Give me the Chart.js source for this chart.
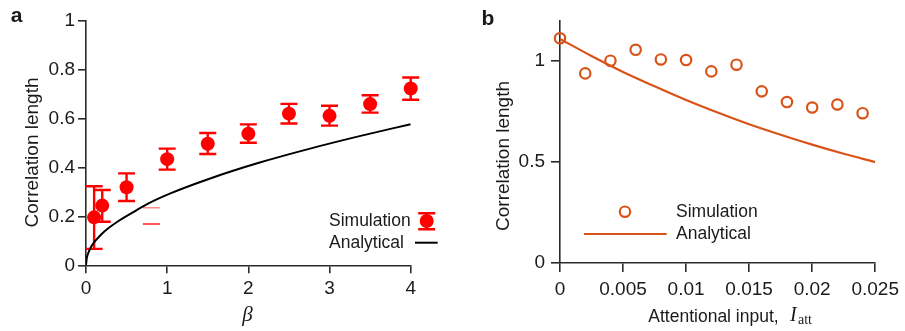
<!DOCTYPE html>
<html><head><meta charset="utf-8">
<script src="https://cdn.jsdelivr.net/npm/chart.js@4/dist/chart.umd.min.js"></script>
<style>
html,body{margin:0;padding:0;background:#fff;}
#wrap{position:relative;width:905px;height:331px;overflow:hidden;background:#fff;}
.pan{position:absolute;top:0;height:331px;}
#pa{left:0;width:452px;}
#pb{left:452px;width:453px;}
</style></head><body>
<div id="wrap">
<div class="pan" id="pa"><canvas id="ca" width="452" height="331"></canvas></div>
<div class="pan" id="pb"><canvas id="cb" width="453" height="331"></canvas></div>
</div>
<script>
const FONT = "'Liberation Sans', Arial, Helvetica, sans-serif";
const SERIF = "'Liberation Serif', 'DejaVu Serif', serif";

// ---------- Panel a data ----------
const betaSim = [0.1, 0.2, 0.5, 1, 1.5, 2, 2.5, 3, 3.5, 4];
const corrSim = [0.196, 0.244, 0.319, 0.434, 0.497, 0.538, 0.620, 0.611, 0.659, 0.723];
const corrSimLow = [0.067, 0.178, 0.263, 0.391, 0.455, 0.501, 0.580, 0.571, 0.624, 0.677];
const corrSimHigh = [0.323, 0.308, 0.376, 0.477, 0.541, 0.576, 0.660, 0.652, 0.695, 0.768];
const betaAna = [0, 0.01, 0.03, 0.07, 0.2, 0.36, 0.57, 0.77, 1.04, 1.53, 2.14, 2.76, 3.37, 4];
const corrAna = [0, 0.03, 0.052, 0.08, 0.13, 0.172, 0.215, 0.253, 0.294, 0.355, 0.42, 0.477, 0.528, 0.577];
const strayBeta = [0.7, 0.91];
const strayLight = [0.235, 0.235];
const strayDark = [0.169, 0.169];
const xTicksA = [0, 1, 2, 3, 4];
const xTickLabelsA = ['0', '1', '2', '3', '4'];
const yTicksA = [0, 0.2, 0.4, 0.6, 0.8, 1];
const yTickLabelsA = ['0', '0.2', '0.4', '0.6', '0.8', '1'];

// ---------- Panel b data ----------
const iAttSim = [0, 0.002, 0.004, 0.006, 0.008, 0.010, 0.012, 0.014, 0.016, 0.018, 0.020, 0.022, 0.024];
const corrSimB = [1.113, 0.939, 1.002, 1.056, 1.008, 1.005, 0.949, 0.982, 0.850, 0.797, 0.770, 0.785, 0.742];
const iAttAna = [0, 0.0025, 0.005, 0.0075, 0.01, 0.0125, 0.015, 0.0175, 0.02, 0.0225, 0.025];
const corrAnaB = [1.11, 1.025, 0.946, 0.875, 0.807, 0.745, 0.687, 0.635, 0.586, 0.541, 0.50];
const xTicksB = [0, 0.005, 0.01, 0.015, 0.02, 0.025];
const xTickLabelsB = ['0', '0.005', '0.01', '0.015', '0.02', '0.025'];
const yTicksB = [0, 0.5, 1];
const yTickLabelsB = ['0', '0.5', '1'];

const RED = '#ff0000';
const ORANGE = '#d95319';
const AXIS = '#2b2b2b';
const TXT = '#1a1a1a';
const TICKSIZE = 19;

function pts(xs, ys) { return xs.map((x, i) => ({x: x, y: ys[i]})); }

function axis(min, max, tv, tl, tickLen, pad, fit) {
  return {
    type: 'linear', min: min, max: max,
    afterBuildTicks: s => { s.ticks = tv.map(v => ({value: v})); },
    afterFit: fit,
    ticks: { callback: (v, i) => tl[i], color: TXT, font: {family: FONT, size: TICKSIZE}, padding: pad, autoSkip: false, maxRotation: 0 },
    grid: { drawOnChartArea: false, drawTicks: true, tickLength: tickLen, color: AXIS, lineWidth: 1.6 },
    border: { display: true, color: AXIS, width: 1.6 },
    title: { display: false }
  };
}

const errorBars = {
  id: 'errorBars',
  beforeDatasetsDraw(chart) {
    const ds = chart.data.datasets.find(d => d.errLow);
    if (!ds) return;
    const xs = chart.scales.x, ys = chart.scales.y, ctx = chart.ctx;
    ctx.save();
    ctx.strokeStyle = ds.borderColor;
    ctx.lineWidth = 2.4;
    ds.data.forEach((p, i) => {
      const x = xs.getPixelForValue(p.x);
      const y1 = ys.getPixelForValue(ds.errLow[i]);
      const y2 = ys.getPixelForValue(ds.errHigh[i]);
      ctx.beginPath();
      ctx.moveTo(x, y1); ctx.lineTo(x, y2);
      ctx.moveTo(x - 8.5, y1); ctx.lineTo(x + 8.5, y1);
      ctx.moveTo(x - 8.5, y2); ctx.lineTo(x + 8.5, y2);
      ctx.stroke();
    });
    ctx.restore();
  }
};

function txt(ctx, s, x, y, font, align, rot) {
  ctx.save();
  ctx.translate(x, y);
  if (rot) ctx.rotate(rot);
  ctx.font = font;
  ctx.fillStyle = TXT;
  ctx.textAlign = align || 'center';
  ctx.textBaseline = 'middle';
  ctx.fillText(s, 0, 0);
  ctx.restore();
}

const decorA = {
  id: 'decorA',
  afterDraw(chart) {
    const ctx = chart.ctx;
    txt(ctx, 'a', 16.5, 16.5, 'bold 21px ' + FONT, 'center');
    txt(ctx, 'Correlation length', 33, 152.5, '19px ' + FONT, 'center', -Math.PI / 2);
    txt(ctx, '\u03B2', 247.5, 315, 'italic 21px ' + SERIF, 'center');
    // legend
    txt(ctx, 'Simulation', 329, 221, '17.5px ' + FONT, 'left');
    txt(ctx, 'Analytical', 329, 243.3, '17.5px ' + FONT, 'left');
    ctx.save();
    ctx.strokeStyle = RED; ctx.lineWidth = 2.4;
    ctx.beginPath();
    ctx.moveTo(426.7, 213.3); ctx.lineTo(426.7, 229.3);
    ctx.moveTo(418.2, 213.3); ctx.lineTo(435.2, 213.3);
    ctx.moveTo(418.2, 229.3); ctx.lineTo(435.2, 229.3);
    ctx.stroke();
    ctx.fillStyle = RED;
    ctx.beginPath(); ctx.arc(426.7, 221, 7, 0, Math.PI * 2); ctx.fill();
    ctx.strokeStyle = '#000'; ctx.lineWidth = 2;
    ctx.beginPath(); ctx.moveTo(415, 242.7); ctx.lineTo(437.7, 242.7); ctx.stroke();
    ctx.restore();
  }
};

const decorB = {
  id: 'decorB',
  afterDraw(chart) {
    const ctx = chart.ctx;
    txt(ctx, 'b', 36, 19, 'bold 21px ' + FONT, 'center');
    txt(ctx, 'Correlation length', 51.3, 156, '19px ' + FONT, 'center', -Math.PI / 2);
    txt(ctx, 'Attentional input,', 196.3, 316.7, '17.5px ' + FONT, 'left');
    txt(ctx, 'I', 338, 316.2, 'italic 20px ' + SERIF, 'left');
    txt(ctx, 'att', 346, 320.5, '14px ' + SERIF, 'left');
    // legend
    txt(ctx, 'Simulation', 224, 211.7, '17.5px ' + FONT, 'left');
    txt(ctx, 'Analytical', 224, 234, '17.5px ' + FONT, 'left');
    ctx.save();
    ctx.strokeStyle = ORANGE; ctx.lineWidth = 2.2;
    ctx.beginPath(); ctx.arc(173, 211.7, 5.2, 0, Math.PI * 2); ctx.stroke();
    ctx.lineWidth = 2.2;
    ctx.beginPath(); ctx.moveTo(132, 234); ctx.lineTo(214.7, 234); ctx.stroke();
    ctx.restore();
  }
};

Chart.defaults.font.family = FONT;

new Chart(document.getElementById('ca'), {
  type: 'scatter',
  data: {
    datasets: [
      { data: pts(betaSim, corrSim), errLow: corrSimLow, errHigh: corrSimHigh,
        backgroundColor: RED, borderColor: RED, borderWidth: 0, pointRadius: 7, showLine: false, order: 0, clip: false },
      { data: pts(betaAna, corrAna), borderColor: '#000', borderWidth: 2, pointRadius: 0, showLine: true,
        cubicInterpolationMode: 'monotone', order: 1 },
      { data: pts(strayBeta, strayLight), borderColor: '#ff8a8a', borderWidth: 1.6, pointRadius: 0, showLine: true, order: 2 },
      { data: pts(strayBeta, strayDark), borderColor: '#ff2020', borderWidth: 1.6, pointRadius: 0, showLine: true, order: 2 }
    ]
  },
  options: {
    responsive: false, animation: false, devicePixelRatio: 1,
    layout: { padding: { left: 0, top: 20.7, right: 41.3, bottom: 0 } },
    plugins: { legend: { display: false }, tooltip: { enabled: false }, title: { display: false } },
    scales: {
      x: axis(0, 4, xTicksA, xTickLabelsA, 8, 4, s => { s.height = 331 - 265.3; }),
      y: axis(0, 1, yTicksA, yTickLabelsA, 8, 3, s => { s.width = 86; })
    }
  },
  plugins: [errorBars, decorA]
});

new Chart(document.getElementById('cb'), {
  type: 'scatter',
  data: {
    datasets: [
      { data: pts(iAttSim, corrSimB), backgroundColor: 'rgba(0,0,0,0)', borderColor: ORANGE, borderWidth: 2.2,
        pointRadius: 5.2, showLine: false, order: 0, clip: false },
      { data: pts(iAttAna, corrAnaB), borderColor: ORANGE, borderWidth: 2.2, pointRadius: 0, showLine: true,
        cubicInterpolationMode: 'monotone', order: 1 }
    ]
  },
  options: {
    responsive: false, animation: false, devicePixelRatio: 1,
    layout: { padding: { left: 0, top: 20.7, right: 24.3, bottom: 0 } },
    plugins: { legend: { display: false }, tooltip: { enabled: false }, title: { display: false } },
    scales: {
      x: axis(0, 0.025, xTicksB, xTickLabelsB, 9, 6, s => { s.height = 331 - 263; }),
      y: axis(0, 1.2, yTicksB, yTickLabelsB, 9, 6, s => { s.width = 108; })
    }
  },
  plugins: [decorB]
});
</script>
</body></html>
